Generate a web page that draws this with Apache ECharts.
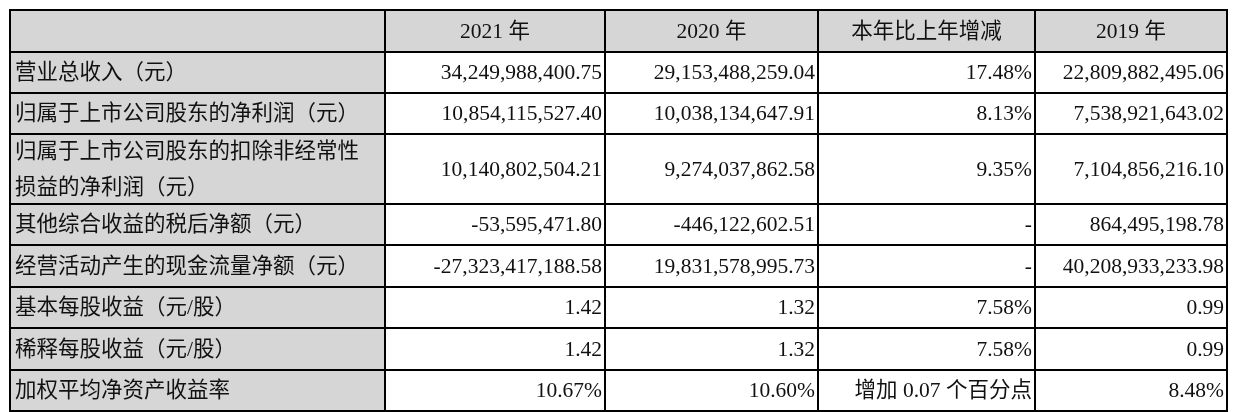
<!DOCTYPE html>
<html lang="zh">
<head>
    <meta charset="UTF-8">
    <title>主要会计数据</title>
    <style>
        body { margin: 0; background: #fff; }
        #main { width: 1244px; height: 412px; }
    </style>
    <script src="https://cdn.jsdelivr.net/npm/echarts/dist/echarts.min.js"></script>
</head>
<body>
<div id="main"></div>
<script>
    // table content
    const headers = ['', '2021 年', '2020 年', '本年比上年增减', '2019 年'];
    const rowLabels = [
        '营业总收入（元）',
        '归属于上市公司股东的净利润（元）',
        '归属于上市公司股东的扣除非经常性\n损益的净利润（元）',
        '其他综合收益的税后净额（元）',
        '经营活动产生的现金流量净额（元）',
        '基本每股收益（元/股）',
        '稀释每股收益（元/股）',
        '加权平均净资产收益率'
    ];
    const values2021 = ['34,249,988,400.75', '10,854,115,527.40', '10,140,802,504.21', '-53,595,471.80',
        '-27,323,417,188.58', '1.42', '1.42', '10.67%'];
    const values2020 = ['29,153,488,259.04', '10,038,134,647.91', '9,274,037,862.58', '-446,122,602.51',
        '19,831,578,995.73', '1.32', '1.32', '10.60%'];
    const changes = ['17.48%', '8.13%', '9.35%', '-', '-', '7.58%', '7.58%', '增加 0.07 个百分点'];
    const values2019 = ['22,809,882,495.06', '7,538,921,643.02', '7,104,856,216.10', '864,495,198.78',
        '40,208,933,233.98', '0.99', '0.99', '8.48%'];

    // layout (pixel grid edges)
    const colEdges = [10, 385, 605, 818, 1035, 1227];
    const rowEdges = [10, 52, 93, 134, 204, 245, 287, 328, 370, 411];

    const columns = [rowLabels, values2021, values2020, changes, values2019];
    const cells = [];
    headers.forEach((h, c) => cells.push([c, 0, h]));
    rowLabels.forEach((_, r) => {
        columns.forEach((col, c) => cells.push([c, r + 1, col[r]]));
    });

    const chart = echarts.init(document.getElementById('main'));
    chart.setOption({
        animation: false,
        grid: { left: 0, right: 0, top: 0, bottom: 0 },
        xAxis: { type: 'value', min: 0, max: 1244, show: false },
        yAxis: { type: 'value', min: 0, max: 412, inverse: true, show: false },
        series: [{
            type: 'custom',
            data: cells,
            renderItem: function (params, api) {
                const c = api.value(0), r = api.value(1);
                const text = cells[params.dataIndex][2];
                const p0 = api.coord([colEdges[c], rowEdges[r]]);
                const p1 = api.coord([colEdges[c + 1], rowEdges[r + 1]]);
                const w = p1[0] - p0[0], h = p1[1] - p0[1];
                const gray = r === 0 || c === 0;
                let align = 'right', tx = p1[0] - 3;
                if (r === 0) { align = 'center'; tx = p0[0] + w / 2; }
                else if (c === 0) { align = 'left'; tx = p0[0] + 5; }
                return {
                    type: 'group',
                    children: [{
                        type: 'rect',
                        shape: { x: p0[0], y: p0[1], width: w, height: h },
                        style: { fill: gray ? '#d6d6d6' : '#fff', stroke: '#000', lineWidth: 2 }
                    }, {
                        type: 'text',
                        style: {
                            text: text,
                            x: tx,
                            y: p0[1] + h / 2 + 1,
                            align: align,
                            verticalAlign: 'middle',
                            fill: '#111',
                            fontSize: 21.5,
                            lineHeight: 36,
                            fontFamily: '"Liberation Serif", "Noto Sans CJK SC", serif'
                        }
                    }]
                };
            }
        }]
    });
</script>
</body>
</html>
